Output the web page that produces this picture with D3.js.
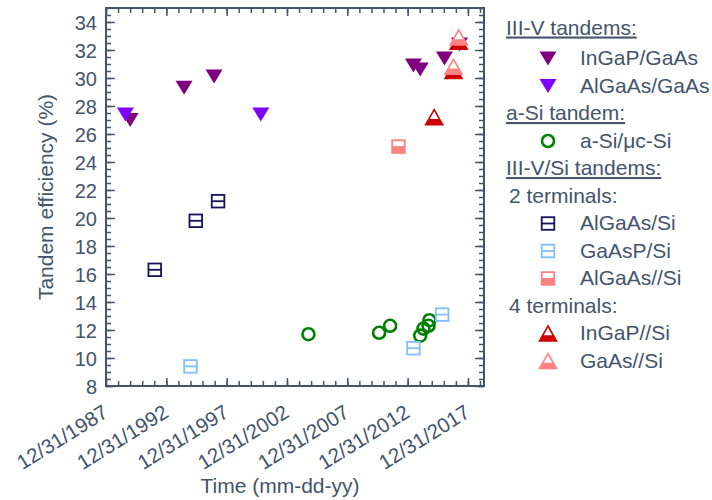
<!DOCTYPE html>
<html>
<head>
<meta charset="utf-8">
<script src="https://cdn.jsdelivr.net/npm/d3@7"></script>
<style>
  body { margin: 0; background: #fff; }
  svg text { font-family: "Liberation Sans", Arial, Helvetica, sans-serif; fill: #44546a; }
</style>
</head>
<body>
<svg id="chart" width="712" height="500"></svg>
<script>
// ---- data: record dates and tandem efficiencies (%) ----
const inGaPGaAsDates   = ["1990-01-01", "1994-06-20", "1996-12-15", "2013-06-25", "2014-01-15", "2016-01-20", "2017-04-20"];
const inGaPGaAsValues  = [27.0, 29.3, 30.1, 30.9, 30.6, 31.4, 32.4];

const alGaAsGaAsDates  = ["1989-08-10", "2000-10-30"];
const alGaAsGaAsValues = [27.4, 27.4];

const aSiDates         = ["2004-10-10", "2010-08-20", "2011-07-20", "2014-01-15", "2014-04-25", "2014-09-25", "2014-10-20"];
const aSiValues        = [11.7, 11.8, 12.3, 11.6, 12.1, 12.3, 12.7];

const alGaAsSiDates    = ["1992-01-15", "1995-06-10", "1997-04-15"];
const alGaAsSiValues   = [16.3, 19.8, 21.2];

const gaAsPSiDates     = ["1995-01-01", "2013-06-25", "2015-11-10"];
const gaAsPSiValues    = [9.4, 10.7, 13.1];

const alGaAs4SiDates   = ["2012-03-28"];
const alGaAs4SiValues  = [25.1];

const inGaP4SiDates    = ["2015-03-15", "2016-10-20", "2017-03-28"];
const inGaP4SiValues   = [27.2, 30.5, 32.6];

const gaAs4SiDates     = ["2016-10-20", "2017-03-28"];
const gaAs4SiValues    = [30.8, 32.9];

// axis ticks
const xTickLabels = ["12/31/1987", "12/31/1992", "12/31/1997", "12/31/2002", "12/31/2007", "12/31/2012", "12/31/2017"];
const xMinorYears = d3.range(1987, 2019); // a tick every 12/31
const yTickLabels = [8, 10, 12, 14, 16, 18, 20, 22, 24, 26, 28, 30, 32, 34];
const yMinorTicks = d3.range(8, 35.001, 0.5);

// ---- series styles (drawing order) ----
const series = [
  { name: "InGaP/GaAs",  dates: inGaPGaAsDates,  values: inGaPGaAsValues,  shape: "down",   color: "#800080" },
  { name: "AlGaAs/GaAs", dates: alGaAsGaAsDates, values: alGaAsGaAsValues, shape: "down",   color: "#8000ff" },
  { name: "a-Si/\u03bcc-Si", dates: aSiDates,    values: aSiValues,        shape: "circle", color: "#008000" },
  { name: "AlGaAs/Si",   dates: alGaAsSiDates,   values: alGaAsSiValues,   shape: "splitSquare", color: "#14145c" },
  { name: "GaAsP/Si",    dates: gaAsPSiDates,    values: gaAsPSiValues,    shape: "splitSquare", color: "#80bfff" },
  { name: "AlGaAs//Si",  dates: alGaAs4SiDates,  values: alGaAs4SiValues,  shape: "halfSquare",  color: "#ff8080" },
  { name: "InGaP//Si",   dates: inGaP4SiDates,   values: inGaP4SiValues,   shape: "upBand", color: "#cc0000" },
  { name: "GaAs//Si",    dates: gaAs4SiDates,    values: gaAs4SiValues,    shape: "upBand", color: "#ff8080" }
];

// legend layout: headers, sub-headers and series entries
const legendRows = [
  { kind: "header", label: "III-V tandems:" },
  { kind: "item", series: 0 },
  { kind: "item", series: 1 },
  { kind: "header", label: "a-Si tandem:" },
  { kind: "item", series: 2 },
  { kind: "header", label: "III-V/Si tandems:" },
  { kind: "sub", label: "2 terminals:" },
  { kind: "item", series: 3 },
  { kind: "item", series: 4 },
  { kind: "item", series: 5 },
  { kind: "sub", label: "4 terminals:" },
  { kind: "item", series: 6 },
  { kind: "item", series: 7 }
];

// ---- layout ----
const ink = "#44546a";
const plot = { left: 106, right: 484, top: 8, bottom: 386 };
const parse = d3.timeParse("%Y-%m-%d");

const x = d3.scaleTime()
  .domain([parse("1987-12-31"), parse("2019-05-01")])
  .range([plot.left, plot.right]);
const y = d3.scaleLinear()
  .domain([8, 35])
  .range([plot.bottom, plot.top]);

const svg = d3.select("#chart");

// ---- axes (ticks point inward, mirrored on all four sides) ----
const minorDates = xMinorYears.map(yr => new Date(yr, 11, 31));
const majorDates = xTickLabels.map(s => d3.timeParse("%m/%d/%Y")(s));

function styleAxis(g) {
  g.select(".domain").remove();
  g.selectAll(".tick line").attr("stroke", ink).attr("stroke-width", 1.5);
}

// bottom
svg.append("g").attr("transform", `translate(0,${plot.bottom})`)
  .call(d3.axisBottom(x).tickValues(minorDates).tickSize(-5).tickFormat(""))
  .call(styleAxis);
const xMajor = svg.append("g").attr("transform", `translate(0,${plot.bottom})`)
  .call(d3.axisBottom(x).tickValues(majorDates).tickSize(-8).tickFormat(d3.timeFormat("%m/%d/%Y")))
  .call(styleAxis);
xMajor.selectAll(".tick text")
  .attr("y", 0).attr("dy", 0)
  .attr("text-anchor", "end")
  .attr("font-size", 20.5)
  .attr("transform", "translate(3,30) rotate(-32)");

// top
svg.append("g").attr("transform", `translate(0,${plot.top})`)
  .call(d3.axisTop(x).tickValues(minorDates).tickSize(-5).tickFormat(""))
  .call(styleAxis);
svg.append("g").attr("transform", `translate(0,${plot.top})`)
  .call(d3.axisTop(x).tickValues(majorDates).tickSize(-8).tickFormat(""))
  .call(styleAxis);

// left
svg.append("g").attr("transform", `translate(${plot.left},0)`)
  .call(d3.axisLeft(y).tickValues(yMinorTicks).tickSize(-5).tickFormat(""))
  .call(styleAxis);
const yMajor = svg.append("g").attr("transform", `translate(${plot.left},0)`)
  .call(d3.axisLeft(y).tickValues(yTickLabels).tickSize(-9).tickFormat(d3.format("d")))
  .call(styleAxis);
yMajor.selectAll(".tick text")
  .attr("x", -9).attr("dy", "0.36em")
  .attr("font-size", 20);

// right
svg.append("g").attr("transform", `translate(${plot.right},0)`)
  .call(d3.axisRight(y).tickValues(yMinorTicks).tickSize(-5).tickFormat(""))
  .call(styleAxis);
svg.append("g").attr("transform", `translate(${plot.right},0)`)
  .call(d3.axisRight(y).tickValues(yTickLabels).tickSize(-9).tickFormat(""))
  .call(styleAxis);

// frame
svg.append("rect")
  .attr("x", plot.left).attr("y", plot.top)
  .attr("width", plot.right - plot.left).attr("height", plot.bottom - plot.top)
  .attr("fill", "none").attr("stroke", ink).attr("stroke-width", 2);

// axis titles
svg.append("text")
  .attr("transform", `translate(53,${(plot.top + plot.bottom) / 2}) rotate(-90)`)
  .attr("text-anchor", "middle").attr("font-size", 21)
  .text("Tandem efficiency (%)");
svg.append("text")
  .attr("x", 280).attr("y", 493)
  .attr("text-anchor", "middle").attr("font-size", 21)
  .text("Time (mm-dd-yy)");

// ---- marker drawing ----
function drawMarker(g, shape, color) {
  if (shape === "down") {
    g.append("path").attr("d", "M-8.5,-7L8.5,-7L0,7Z").attr("fill", color);
  } else if (shape === "circle") {
    g.append("circle").attr("r", 6).attr("fill", "none")
      .attr("stroke", color).attr("stroke-width", 2.6);
  } else if (shape === "splitSquare") {
    g.append("rect").attr("x", -6.3).attr("y", -6.3).attr("width", 12.6).attr("height", 12.6)
      .attr("fill", "#fff").attr("stroke", color).attr("stroke-width", 1.8);
    g.append("line").attr("x1", -6.3).attr("x2", 6.3).attr("y1", 0).attr("y2", 0)
      .attr("stroke", color).attr("stroke-width", 1.8);
  } else if (shape === "halfSquare") {
    g.append("rect").attr("x", -6.3).attr("y", -6.3).attr("width", 12.6).attr("height", 12.6)
      .attr("fill", "#fff").attr("stroke", color).attr("stroke-width", 1.8);
    g.append("rect").attr("x", -6.3).attr("y", -0.5).attr("width", 12.6).attr("height", 6.8)
      .attr("fill", color);
  } else if (shape === "upBand") {
    const hw = 8.5, hh = 7.5, frac = 0.38;
    const yb = hh - frac * 2 * hh;
    const w = hw * (yb + hh) / (2 * hh);
    g.append("path").attr("d", `M0,${-hh}L${hw},${hh}L${-hw},${hh}Z`)
      .attr("fill", "#fff").attr("stroke", color).attr("stroke-width", 1.6)
      .attr("stroke-linejoin", "miter");
    g.append("path").attr("d", `M${-w},${yb}L${w},${yb}L${hw},${hh}L${-hw},${hh}Z`)
      .attr("fill", color);
  }
}

// ---- points ----
const pointsLayer = svg.append("g");
series.forEach(s => {
  s.dates.forEach((d, i) => {
    const g = pointsLayer.append("g")
      .attr("transform", `translate(${x(parse(d))},${y(s.values[i])})`);
    drawMarker(g, s.shape, s.color);
  });
});

// ---- legend ----
const legend = svg.append("g");
const rowY = i => (i === 0 ? 34.5 : 37.5 + 27.5 * i);
legendRows.forEach((row, i) => {
  const by = rowY(i);
  if (row.kind === "header") {
    legend.append("text").attr("x", 506).attr("y", by).attr("font-size", 21)
      .attr("text-decoration", "underline").text(row.label);
  } else if (row.kind === "sub") {
    legend.append("text").attr("x", 509).attr("y", by).attr("font-size", 21).text(row.label);
  } else {
    const s = series[row.series];
    const g = legend.append("g").attr("transform", `translate(548,${by - 6.5})`);
    drawMarker(g, s.shape, s.color);
    legend.append("text").attr("x", 580).attr("y", by).attr("font-size", 21).text(s.name);
  }
});
</script>
</body>
</html>
